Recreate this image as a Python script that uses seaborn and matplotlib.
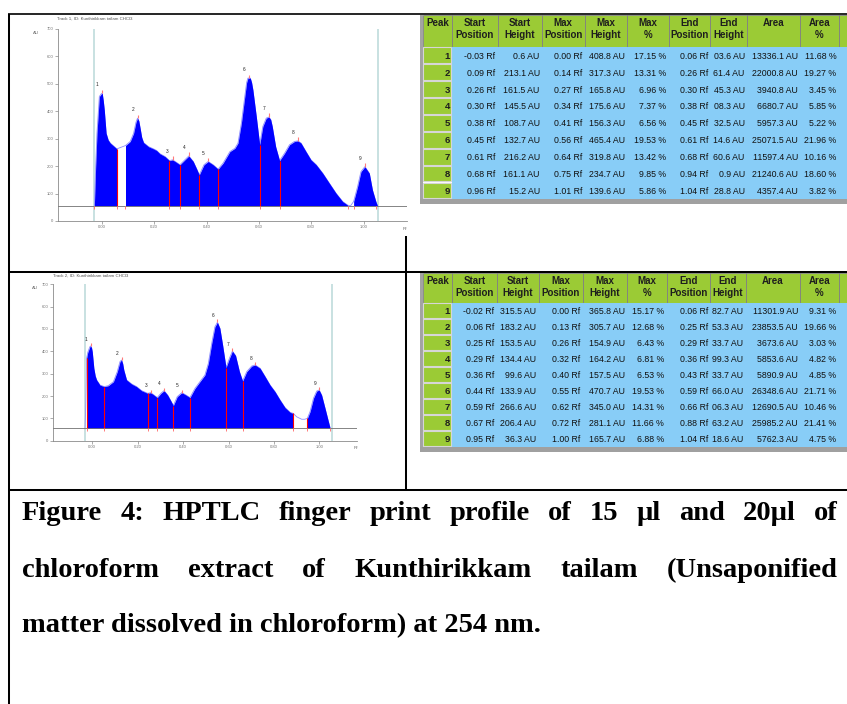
import numpy as np
import matplotlib
matplotlib.use("Agg")
import matplotlib.pyplot as plt
from matplotlib.patches import Rectangle
import seaborn as sns

# ---------------- chart data ----------------
rf1 = [-0.029, -0.024, -0.019, -0.010, -0.003, 0.001, 0.005, 0.009, 0.016, 0.024, 0.032, 0.051, 0.057,
       0.090, 0.108, 0.121, 0.130, 0.136, 0.141, 0.146, 0.152, 0.159, 0.178, 0.197, 0.209, 0.222, 0.241,
       0.258, 0.270, 0.286, 0.298, 0.317, 0.332, 0.349, 0.362, 0.372, 0.390, 0.406, 0.425, 0.444, 0.463,
       0.489, 0.508, 0.520, 0.533, 0.546, 0.553, 0.558, 0.567, 0.572, 0.577, 0.590, 0.603, 0.615, 0.628,
       0.638, 0.645, 0.651, 0.664, 0.679, 0.698, 0.717, 0.736, 0.749, 0.761, 0.780, 0.799, 0.819, 0.844,
       0.869, 0.895, 0.920, 0.939, 0.950, 0.962, 0.977, 0.990, 1.005, 1.022, 1.034, 1.047, 1.053]
au1 = [56, 200, 320, 454, 463, 466, 440, 405, 320, 295, 284, 268, 263,
       275, 290, 320, 360, 375, 365, 338, 305, 286, 271, 263, 257, 245, 235,
       220, 223, 213, 205, 223, 237, 217, 190, 168, 205, 217, 205, 189, 211,
       253, 265, 284, 357, 454, 505, 521, 521, 505, 478, 381, 278, 345, 375,
       379, 370, 345, 271, 220, 247, 278, 290, 292, 284, 253, 223, 205, 174,
       138, 101, 71, 58, 55, 71, 125, 180, 198, 174, 113, 71, 56]
baseline1 = 55
fill_segments1 = [(-0.029, 0.057), (0.090, 0.939), (0.962, 1.053)]
red_lines1 = [0.057, 0.258, 0.298, 0.372, 0.444, 0.603, 0.679]
base_marks1 = [-0.029, 0.057, 0.090, 0.258, 0.298, 0.372, 0.444, 0.603, 0.679, 0.939, 0.962, 1.047]
peak_rf1 = [0.001, 0.136, 0.270, 0.332, 0.406, 0.562, 0.638, 0.749, 1.005]
track_lines1 = [-0.030, 1.056]

rf2 = [-0.032, -0.029, -0.027, -0.025, -0.020, -0.016, -0.011, -0.007, -0.003, 0.000, 0.007, 0.013,
       0.019, 0.034, 0.053, 0.070, 0.093, 0.110, 0.122, 0.129, 0.134, 0.139, 0.151, 0.173, 0.195, 0.217,
       0.244, 0.257, 0.272, 0.286, 0.302, 0.316, 0.332, 0.345, 0.357, 0.374, 0.394, 0.413, 0.430, 0.452,
       0.474, 0.496, 0.511, 0.526, 0.540, 0.551, 0.562, 0.574, 0.589, 0.604, 0.617, 0.631, 0.648, 0.662,
       0.680, 0.702, 0.717, 0.739, 0.761, 0.783, 0.805, 0.827, 0.849, 0.871, 0.885, 0.900, 0.922, 0.936,
       0.947, 0.959, 0.974, 0.988, 0.999, 1.010, 1.025, 1.040, 1.047]
au2 = [55, 150, 250, 369, 395, 406, 420, 424, 415, 398, 324, 290,
       272, 249, 242, 246, 264, 309, 354, 361, 345, 316, 272, 254, 242, 224,
       212, 215, 204, 193, 212, 224, 204, 180, 157, 197, 215, 204, 193, 234,
       264, 294, 346, 436, 510, 530, 503, 428, 327, 369, 401, 381, 309, 267,
       309, 334, 339, 324, 287, 249, 219, 182, 148, 127, 122, 107, 96, 96,
       100, 130, 190, 222, 227, 204, 145, 85, 58]
baseline2 = 55
fill_segments2 = [(-0.025, 0.885), (0.947, 1.047)]
red_lines2 = [-0.025, 0.053, 0.244, 0.286, 0.357, 0.430, 0.589, 0.662, 0.885, 0.947]
base_marks2 = [-0.025, 0.053, 0.244, 0.286, 0.357, 0.430, 0.589, 0.662, 0.885, 0.947, 1.047]
peak_rf2 = [-0.007, 0.129, 0.257, 0.316, 0.394, 0.551, 0.617, 0.717, 0.999]
track_lines2 = [-0.031, 1.054]

x_ticks = [0.0, 0.2, 0.4, 0.6, 0.8, 1.0]
y_ticks = [0, 100, 200, 300, 400, 500, 600, 700]

# ---------------- table data ----------------
header_top = ["Peak", "Start", "Start", "Max", "Max", "Max", "End", "End", "Area", "Area"]
header_bot = ["", "Position", "Height", "Position", "Height", "%", "Position", "Height", "", "%"]
peaks = [1, 2, 3, 4, 5, 6, 7, 8, 9]

start_pos1 = [-0.03, 0.09, 0.26, 0.30, 0.38, 0.45, 0.61, 0.68, 0.96]
start_h1 = [0.6, 213.1, 161.5, 145.5, 108.7, 132.7, 216.2, 161.1, 15.2]
max_pos1 = [0.00, 0.14, 0.27, 0.34, 0.41, 0.56, 0.64, 0.75, 1.01]
max_h1 = [408.8, 317.3, 165.8, 175.6, 156.3, 465.4, 319.8, 234.7, 139.6]
max_pct1 = [17.15, 13.31, 6.96, 7.37, 6.56, 19.53, 13.42, 9.85, 5.86]
end_pos1 = [0.06, 0.26, 0.30, 0.38, 0.45, 0.61, 0.68, 0.94, 1.04]
end_h1 = ["03.6", "61.4", "45.3", "08.3", "32.5", "14.6", "60.6", "0.9", "28.8"]
area1 = [13336.1, 22000.8, 3940.8, 6680.7, 5957.3, 25071.5, 11597.4, 21240.6, 4357.4]
area_pct1 = [11.68, 19.27, 3.45, 5.85, 5.22, 21.96, 10.16, 18.60, 3.82]

start_pos2 = [-0.02, 0.06, 0.25, 0.29, 0.36, 0.44, 0.59, 0.67, 0.95]
start_h2 = [315.5, 183.2, 153.5, 134.4, 99.6, 133.9, 266.6, 206.4, 36.3]
max_pos2 = [0.00, 0.13, 0.26, 0.32, 0.40, 0.55, 0.62, 0.72, 1.00]
max_h2 = [365.8, 305.7, 154.9, 164.2, 157.5, 470.7, 345.0, 281.1, 165.7]
max_pct2 = [15.17, 12.68, 6.43, 6.81, 6.53, 19.53, 14.31, 11.66, 6.88]
end_pos2 = [0.06, 0.25, 0.29, 0.36, 0.43, 0.59, 0.66, 0.88, 1.04]
end_h2 = ["82.7", "53.3", "33.7", "99.3", "33.7", "66.0", "06.3", "63.2", "18.6"]
area2 = [11301.9, 23853.5, 3673.6, 5853.6, 5890.9, 26348.6, 12690.5, 25985.2, 5762.3]
area_pct2 = [9.31, 19.66, 3.03, 4.82, 4.85, 21.71, 10.46, 21.41, 4.75]

caption_lines = ["Figure 4: HPTLC finger print profile of  15 \u00b5l and 20\u00b5l of",
                 "chloroform extract of Kunthirikkam tailam (Unsaponified",
                 "matter dissolved in chloroform) at 254 nm."]

# ---------------- figure ----------------
sns.set_theme(style="white")
plt.rcParams["font.family"] = ["Liberation Sans", "DejaVu Sans"]

W, H = 847, 704
fig = plt.figure(figsize=(W / 100, H / 100), dpi=100)
fig.patch.set_facecolor("white")
bg = fig.add_axes([0, 0, 1, 1])
bg.set_xlim(0, W)
bg.set_ylim(H, 0)
bg.axis("off")


def rect(l, t, r, b):
    return [l / W, 1 - b / H, (r - l) / W, (b - t) / H]


# frame lines of the document table
LW = 1.45
bg.plot([8.5, 8.5], [13.5, 704], color="black", lw=LW, solid_capstyle="butt")
bg.plot([8, 847], [14, 14], color="black", lw=1.2, solid_capstyle="butt")
bg.plot([8, 847], [271.5, 271.5], color="black", lw=LW, solid_capstyle="butt")
bg.plot([8, 847], [490, 490], color="black", lw=LW, solid_capstyle="butt")
bg.plot([405.7, 405.7], [236, 490], color="black", lw=LW, solid_capstyle="butt")

GREEN = "#9BCB35"
BLUE = "#88CDF7"


def draw_table(edges, top, hdr_bot, row_h, y1, y2, cols):
    n = len(peaks)
    rows_end = hdr_bot + n * row_h
    bg.add_patch(Rectangle((420, top), 3.3, rows_end + 5.5 - top, fc="#a3a3a3", ec="none"))
    for i in range(len(edges) - 1):
        bg.add_patch(Rectangle((edges[i], top), edges[i + 1] - edges[i], hdr_bot - top,
                               fc=GREEN, ec="#808080", lw=0.6))
    for i in range(len(header_top)):
        cx = (edges[i] + edges[i + 1]) / 2
        bg.text(cx, y1, header_top[i], ha="center", va="center", fontsize=7,
                fontweight="bold", color="#1e1e1e")
        if header_bot[i]:
            bg.text(cx, y2, header_bot[i], ha="center", va="center", fontsize=7,
                    fontweight="bold", color="#1e1e1e")
    bg.add_patch(Rectangle((edges[1], hdr_bot), W - edges[1], n * row_h, fc=BLUE, ec="none"))
    for r in range(n):
        y0 = hdr_bot + r * row_h
        bg.add_patch(Rectangle((edges[0], y0 + 0.5), edges[1] - edges[0] - 1, row_h - 1,
                               fc=GREEN, ec="#d6d6d6", lw=0.8))
        yc = y0 + row_h / 2
        bg.text(edges[1] - 2.2, yc, str(peaks[r]), ha="right", va="center_baseline",
                fontsize=6.8, fontweight="bold", color="#1e1e1e")
        for c, vals in enumerate(cols):
            bg.text(edges[c + 2] - 2.3, yc, vals[r], ha="right", va="center_baseline",
                    fontsize=6.3, color="#111111")
    bg.add_patch(Rectangle((420, rows_end), W - 420, 5.5, fc="#a0a0a0", ec="none"))


def fmt_cols(sp, sh, mp, mh, mpct, ep, eh, ar, apct):
    return [[f"{v:.2f} Rf" for v in sp], [f"{v:.1f} AU" for v in sh],
            [f"{v:.2f} Rf" for v in mp], [f"{v:.1f} AU" for v in mh],
            [f"{v:.2f} %" for v in mpct], [f"{v:.2f} Rf" for v in ep],
            [f"{v} AU" for v in eh], [f"{v:.1f} AU" for v in ar],
            [f"{v:.2f} %" for v in apct]]


edges1 = [423, 452, 497.5, 542, 584.5, 627, 668.5, 710.3, 747, 800.3, 838.5, 847]
edges2 = [423, 452, 496.5, 538.5, 583, 627, 666.5, 710.3, 745.5, 800.3, 838.5, 847]
draw_table(edges1, 15, 46.8, 16.9, 23.5, 35.3,
           fmt_cols(start_pos1, start_h1, max_pos1, max_h1, max_pct1, end_pos1, end_h1, area1, area_pct1))
draw_table(edges2, 272.5, 302.5, 16.0, 281.5, 293.2,
           fmt_cols(start_pos2, start_h2, max_pos2, max_h2, max_pct2, end_pos2, end_h2, area2, area_pct2))


def draw_chart(r, xlim, rf, au, base, segs, reds, marks, pk, tracks):
    ax = fig.add_axes(r)
    ax.patch.set_alpha(0)
    rf = np.asarray(rf, float)
    au = np.asarray(au, float)
    for t in tracks:
        ax.axvline(t, color="#b9d8d8", lw=1.1, zorder=0)
    sns.lineplot(x=rf, y=au, ax=ax, color="#8c8cff", lw=0.6, estimator=None, sort=False, zorder=1)
    for a, b in segs:
        m = (rf >= a - 1e-9) & (rf <= b + 1e-9)
        ax.fill_between(rf[m], base, au[m], color="#0000FF", lw=0, zorder=2)
    ax.axhline(base, color="#707070", lw=0.6, zorder=3)
    for x in reds:
        ax.vlines(x, base, np.interp(x, rf, au), color="#ff0000", lw=0.8, zorder=4)
    for x in marks:
        ax.vlines(x, base - 13, base, color="#ff7a7a", lw=0.7, zorder=4)
    for i, p in enumerate(pk):
        top = np.interp(p, rf, au)
        ax.vlines(p, top, top + 13, color="#ff7a7a", lw=0.8, zorder=4)
        ax.text(p - 0.019, top + 30, str(i + 1), fontsize=3.4, ha="center", va="center",
                color="#222222", zorder=5)
    ax.set_xlim(*xlim)
    ax.set_ylim(0, 700)
    ax.set_xticks(x_ticks)
    ax.set_xticklabels([f"{v:.2f}" for v in x_ticks])
    ax.set_yticks(y_ticks)
    ax.set_yticklabels([str(v) for v in y_ticks])
    ax.tick_params(axis="both", labelsize=3, length=2, width=0.5, color="#8a8a8a",
                   labelcolor="#707070", pad=1.2, direction="out")
    ax.tick_params(axis="both", which="both", bottom=True, left=True)
    for s in ["top", "right"]:
        ax.spines[s].set_visible(False)
    for s in ["left", "bottom"]:
        ax.spines[s].set_color("#8a8a8a")
        ax.spines[s].set_linewidth(0.6)
    ax.set_xlabel("")
    ax.set_ylabel("")
    ax.grid(False)
    return ax


draw_chart(rect(58, 29, 407, 221), (-0.168, 1.166), rf1, au1, baseline1, fill_segments1,
           red_lines1, base_marks1, peak_rf1, track_lines1)
draw_chart(rect(53, 284.3, 357.3, 440.7), (-0.173, 1.167), rf2, au2, baseline2, fill_segments2,
           red_lines2, base_marks2, peak_rf2, track_lines2)

# small labels around the densitograms
bg.text(57, 18.5, "Track 1, ID: Kunthirikkam tailam CHCl3", fontsize=3.2, color="#555555", va="center")
bg.text(36, 33, "AU", fontsize=3.2, color="#666666", ha="center", va="center")
bg.text(405, 229, "Rf", fontsize=3.2, color="#666666", ha="center", va="center")
bg.text(53, 276, "Track 2, ID: Kunthirikkam tailam CHCl3", fontsize=3.2, color="#555555", va="center")
bg.text(35, 288, "AU", fontsize=3.2, color="#666666", ha="center", va="center")
bg.text(356, 448, "Rf", fontsize=3.2, color="#666666", ha="center", va="center")

# caption (justified first two lines)
CAP_FS = 20.5
cap_font = dict(fontsize=CAP_FS, fontweight="bold", family=["Liberation Serif", "DejaVu Serif"],
                color="black", va="baseline")
x_left, x_right = 22, 838
baselines = [520, 577, 632]
renderer = fig.canvas.get_renderer()
for li, line in enumerate(caption_lines):
    if li < 2:
        words = line.split()
        objs = [bg.text(0, baselines[li], w_, ha="left", **cap_font) for w_ in words]
        widths = [o.get_window_extent(renderer).width for o in objs]
        gap = (x_right - x_left - sum(widths)) / (len(words) - 1)
        x = x_left
        for o, wd in zip(objs, widths):
            o.set_x(x)
            x += wd + gap
    else:
        bg.text(x_left, baselines[li], line, ha="left", **cap_font)

fig.savefig("out.png", dpi=100, facecolor="white")
